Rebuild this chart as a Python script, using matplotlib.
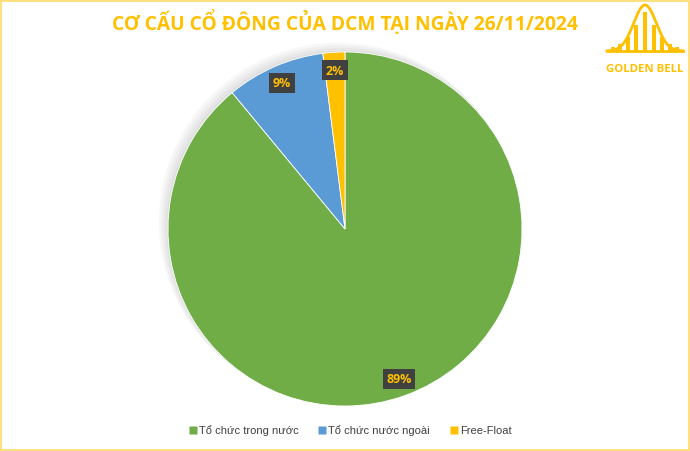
import matplotlib.pyplot as plt
from matplotlib.patches import Rectangle, Circle
import numpy as np

# Data
labels = ['Tổ chức trong nước', 'Tổ chức nước ngoài', 'Free-Float']
shares = [89, 9, 2]
colors = ['#70AD47', '#5B9BD5', '#FFC000']
title = 'CƠ CẤU CỔ ĐÔNG CỦA DCM TẠI NGÀY 26/11/2024'

gold = '#FFC000'
W, H = 690, 452
fig = plt.figure(figsize=(W / 100, H / 100), dpi=100)
fig.patch.set_facecolor('white')

# outer border
fig.add_artist(Rectangle((0.002, 0.003), 0.996, 0.993, transform=fig.transFigure,
                         fill=False, edgecolor='#FFD966', linewidth=1.2))

fig.text(345 / W, 1 - 22 / H, title, ha='center', va='center', color=gold,
         fontsize=13.9, fontweight='bold', family='Open Sans')

# pie axes (centre ~ (345, 230) px, radius ~177 px)
cx, cy, r = 345, 230, 177
ax = fig.add_axes([(cx - r) / W, (H - cy - r) / H, 2 * r / W, 2 * r / H])
ax.axis('off')

# soft shadow
for k in range(4):
    ax.add_patch(Circle((-0.01 * (k + 1), 0.01 * (k + 1)), 1.0 + 0.004 * k,
                        color='black', alpha=0.03, lw=0, zorder=0, clip_on=False))

wedges, texts, autotexts = ax.pie(
    shares, colors=colors, startangle=90, counterclock=False,
    autopct='%1.0f%%', pctdistance=0.9, radius=1.0,
    wedgeprops=dict(edgecolor='white', linewidth=0.6),
    textprops=dict(color=gold, fontsize=9, fontweight='bold', family='Open Sans'))
for w in wedges:
    w.set_clip_on(False)
for t in autotexts:
    t.set_bbox(dict(boxstyle='square,pad=0.3', facecolor='#404040', edgecolor='none'))
ax.set_xlim(-1.0, 1.0)
ax.set_ylim(-1.0, 1.0)

# legend
handles = [plt.Line2D([], [], marker='s', linestyle='none', markersize=5.5,
                      markerfacecolor=c, markeredgecolor='none') for c in colors]
fig.legend(handles, labels, loc='center', bbox_to_anchor=(348 / W, 1 - 431 / H),
           ncol=3, frameon=False, handletextpad=-0.2, columnspacing=1.4,
           handlelength=1.5, prop=dict(family='Liberation Sans', size=8),
           labelcolor='#404040')

# Golden Bell logo, drawn in pixel units
lax = fig.add_axes([600 / W, 1 - 90 / H, 90 / W, 90 / H])
lax.set_xlim(600, 690)
lax.set_ylim(90, 0)
lax.axis('off')
xs = np.linspace(607, 683, 200)
lax.plot(xs, 52 - 46 * np.exp(-((xs - 645) / 16) ** 2), color=gold, lw=2)
bar_x = [613, 620, 628, 636, 645, 654, 662, 670, 677]
bar_top = [48, 45, 38, 26, 13, 26, 38, 45, 48]
lax.bar(bar_x, [52 - t for t in bar_top], bottom=bar_top, width=3.2, color=gold)
lax.plot([607, 683], [52, 52], color=gold, lw=2)
lax.text(645, 69, 'GOLDEN BELL', ha='center', va='center', color=gold,
         fontsize=8.2, fontweight='bold', family='Open Sans')

fig.savefig('out.png', dpi=100, facecolor='white')
